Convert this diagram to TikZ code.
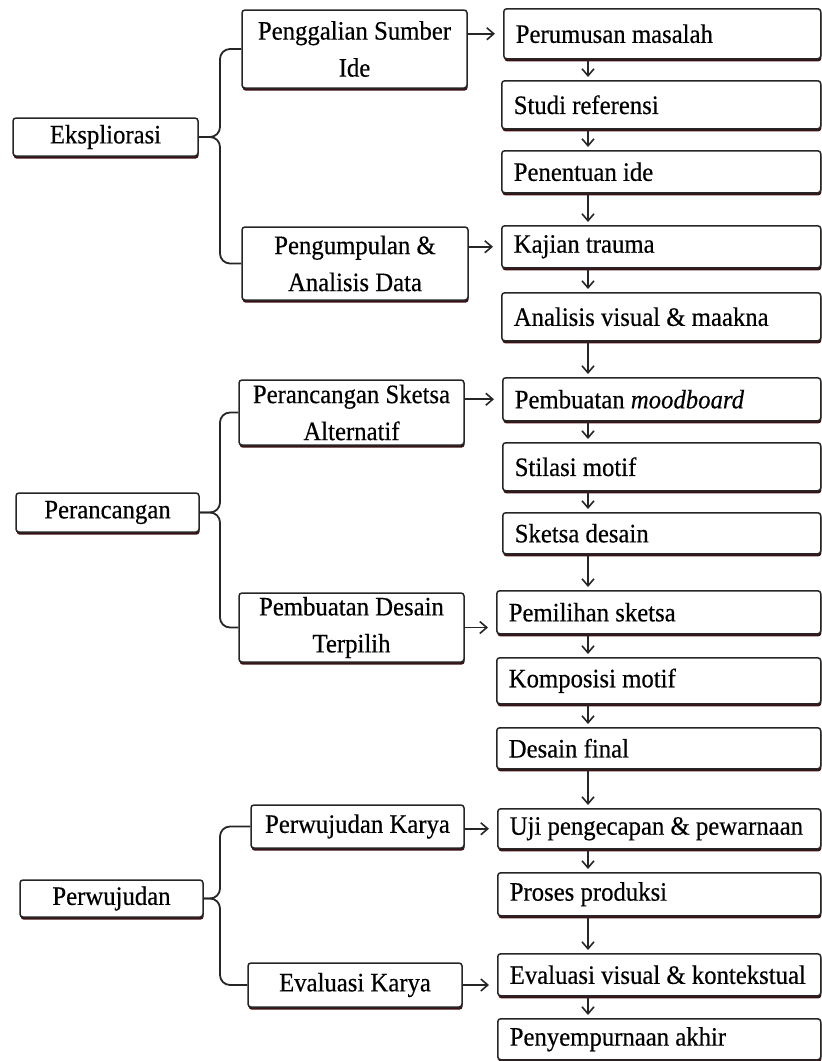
\documentclass[tikz,border=0pt]{standalone}
\usepackage{fontspec}
\setmainfont[FakeStretch=0.93, FakeBold=0.4]{Liberation Serif}
\usetikzlibrary{arrows.meta, shadows}

\definecolor{ink}{HTML}{262626}
\definecolor{shade}{HTML}{3B1214}

\tikzset{
    box/.style={draw=ink, fill=white, line width=0.75pt, rounded corners=1.5pt,
        drop shadow={shadow xshift=0.3pt, shadow yshift=-1.3pt, fill=shade, opacity=1},
        font=\fontsize{13.3}{18.5}\selectfont, inner sep=0pt},
    stepbox/.style={box, anchor=north west, inner xsep=6pt, align=flush left},
    groupbox/.style={box, align=center},
    arr/.style={draw=ink, line width=0.8pt, -{Straight Barb[length=3.5pt, width=6pt]}},
    brace/.style={draw=ink, line width=0.9pt, rounded corners=5pt},
}

\begin{document}
\begin{tikzpicture}[x=0.5pt, y=-0.5pt]
    \useasboundingbox (0, 0) rectangle (822, 1061);

    \coordinate (col) at (588, 0);
    \coordinate (fork) at (220, 0);

    % tahap utama
    \node[groupbox, minimum width=92.5pt, minimum height=19pt] (eks) at (105.5, 137) {Ekspliorasi};
    \node[groupbox, minimum width=91.5pt, minimum height=19.5pt] (ranc) at (107.5, 512.5) {Perancangan};
    \node[groupbox, minimum width=91.5pt, minimum height=18.5pt] (wujud) at (111.5, 898.5) {Perwujudan};

    % sub tahap
    \node[groupbox, minimum width=112.5pt, minimum height=39pt] (gali) at (354.5, 49) {Penggalian Sumber\\Ide};
    \node[groupbox, minimum width=113pt, minimum height=36.5pt] (kumpul) at (355, 263.5) {Pengumpulan \&\\Analisis Data};
    \node[groupbox, minimum width=112.5pt, minimum height=32.5pt] (sketsa) at (351.5, 412.5) {Perancangan Sketsa\\Alternatif};
    \node[groupbox, minimum width=112.5pt, minimum height=34.5pt] (terpilih) at (351.5, 627.5) {Pembuatan Desain\\Terpilih};
    \node[groupbox, minimum width=106.5pt, minimum height=21.5pt] (karya) at (357.5, 826.5) {Perwujudan Karya};
    \node[groupbox, minimum width=107pt, minimum height=22pt] (evkarya) at (355, 985) {Evaluasi Karya};

    % langkah
    \foreach \nm/\xx/\yy/\hh/\txt [evaluate=\xx as \tw using (820-\xx)/2-12] in {
        rumus/503/8/25/Perumusan masalah,
        studi/501/80/24/Studi referensi,
        ide/501/150/21/Penentuan ide,
        trauma/501/225/21/Kajian trauma,
        visual/501/292/24/Analisis visual \& maakna,
        mood/502/377/21.5/Pembuatan \textit{moodboard},
        stilasi/502/442/24/Stilasi motif,
        desain/502/512/20.5/Sketsa desain,
        pilih/496/590/21.5/Pemilihan sketsa,
        komposisi/496/657/23/Komposisi motif,
        final/496/727/20.5/Desain final,
        uji/497/808/20/Uji pengecapan \& pewarnaan,
        produksi/497/872/21.5/Proses produksi,
        evvis/497/953/21/Evaluasi visual \& kontekstual,
        sempurna/497/1018/20.5/Penyempurnaan akhir}
    {
        \node[stepbox, text width=\tw pt, minimum height=\hh pt] (\nm) at (\xx, \yy) {\txt};
    }

    \foreach \a/\b in {rumus/studi, studi/ide, ide/trauma, trauma/visual, visual/mood,
        mood/stilasi, stilasi/desain, desain/pilih, pilih/komposisi, komposisi/final,
        final/uji, uji/produksi, produksi/evvis, evvis/sempurna}
    {
        \draw[arr, shorten >=1.5pt] (\a.south -| col) -- (\b.north -| col);
    }

    % kurung
    \foreach \m/\t/\u in {eks/gali/kumpul, ranc/sketsa/terpilih, wujud/karya/evkarya}
    {
        \draw[brace] (\m.east) -- (\m.east -| fork) |- (\t.west);
        \draw[brace] (\m.east) -- (\m.east -| fork) |- (\u.west);
    }

    \draw[arr, shorten >=4pt] (gali.east |- rumus) -- (rumus.west);
    \draw[arr, shorten >=4pt] (kumpul.east |- trauma) -- (trauma.west);
    \draw[arr, shorten >=4pt] (sketsa.east |- mood) -- (mood.west);
    \draw[arr, shorten >=4pt] (terpilih.east) -- (terpilih.east -| pilih.west);
    \draw[arr, shorten >=4pt] (karya.east |- uji) -- (uji.west);
    \draw[arr, shorten >=4pt] (evkarya.east) -- (evkarya.east -| evvis.west);
\end{tikzpicture}
\end{document}
